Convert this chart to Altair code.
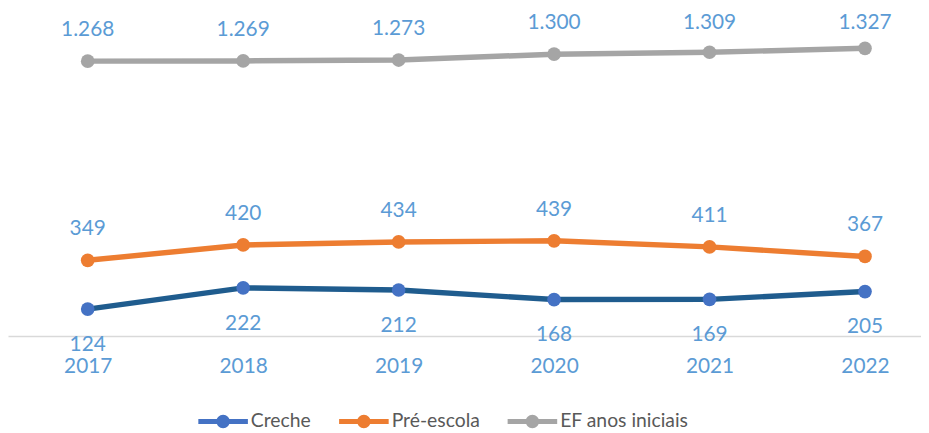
import altair as alt
import pandas as pd

years = [2017, 2018, 2019, 2020, 2021, 2022]
creche = [124, 222, 212, 168, 169, 205]
pre_escola = [349, 420, 434, 439, 411, 367]
ef_iniciais = [1268, 1269, 1273, 1300, 1309, 1327]
series_names = ["Creche", "Pré-escola", "EF anos iniciais"]
line_colors = ["#1F5C8E", "#ED7D31", "#A5A5A5"]
marker_colors = ["#4472C4", "#ED7D31", "#A5A5A5"]
label_color = "#5B9BD5"

rows = []
for idx, (name, vals) in enumerate(zip(series_names, [creche, pre_escola, ef_iniciais])):
    for yr, v in zip(years, vals):
        rows.append({"ano": yr, "serie": name, "ordem": idx, "valor": v,
                     "rotulo": f"{v:,}".replace(",", ".")})
df = pd.DataFrame(rows)

FONT = "Lato"

x_enc = alt.X(
    "ano:Q",
    scale=alt.Scale(domain=[2016.4873, 2022.3603], nice=False, zero=False),
    axis=alt.Axis(values=years, format="d", title=None, ticks=False, grid=False,
                  labelFontSize=21, labelColor=label_color, labelFont=FONT,
                  labelPadding=20, domainColor="#D9D9D9", domainWidth=1.5),
)
y_scale = alt.Scale(domain=[0, 1500], nice=False)

base = alt.Chart(df)

legend_path = ("M-1,-0.1 L1,-0.1 L1,0.1 L-1,0.1 Z "
               "M0.27,0 A0.27,0.27 0 1,1 -0.27,0 A0.27,0.27 0 1,1 0.27,0 Z")

lines = base.mark_line(strokeWidth=5.5).encode(
    x=x_enc,
    y=alt.Y("valor:Q", scale=y_scale, axis=None),
    stroke=alt.Stroke("ordem:N", scale=alt.Scale(range=line_colors), legend=None),
)

points = base.mark_point(filled=True, size=190, opacity=1, shape="circle").encode(
    x=x_enc,
    y=alt.Y("valor:Q", scale=y_scale, axis=None),
    color=alt.Color(
        "serie:N",
        scale=alt.Scale(domain=series_names, range=marker_colors),
        legend=alt.Legend(title=None, orient="none", legendX=192, legendY=389,
                          direction="horizontal", symbolType=legend_path,
                          symbolSize=2500, symbolStrokeWidth=0,
                          labelFont=FONT, labelFontSize=19.5, labelColor="#595959",
                          labelOffset=3, columnPadding=28, padding=0),
    ),
)

labels_above = base.transform_filter(
    alt.datum.serie != "Creche"
).transform_calculate(
    pos="datum.serie == 'EF anos iniciais' ? min(datum.valor, 1300) : datum.valor"
).mark_text(font=FONT, fontSize=21, color=label_color, dy=-31.5, baseline="middle").encode(
    x=x_enc,
    y=alt.Y("pos:Q", scale=y_scale, axis=None),
    text="rotulo:N",
)

labels_below = base.transform_filter(
    alt.datum.serie == "Creche"
).mark_text(font=FONT, fontSize=21, color=label_color, dy=36, baseline="middle").encode(
    x=x_enc,
    y=alt.Y("valor:Q", scale=y_scale, axis=None),
    text="rotulo:N",
)

chart = alt.layer(lines, points, labels_above, labels_below).properties(
    width=921, height=328,
    autosize=alt.AutoSizeParams(type="none"),
    padding={"left": 0, "top": 1, "right": 0, "bottom": 96},
).configure_view(stroke=None)

chart.save("out.html", embed_options={"renderer": "svg", "actions": False})
